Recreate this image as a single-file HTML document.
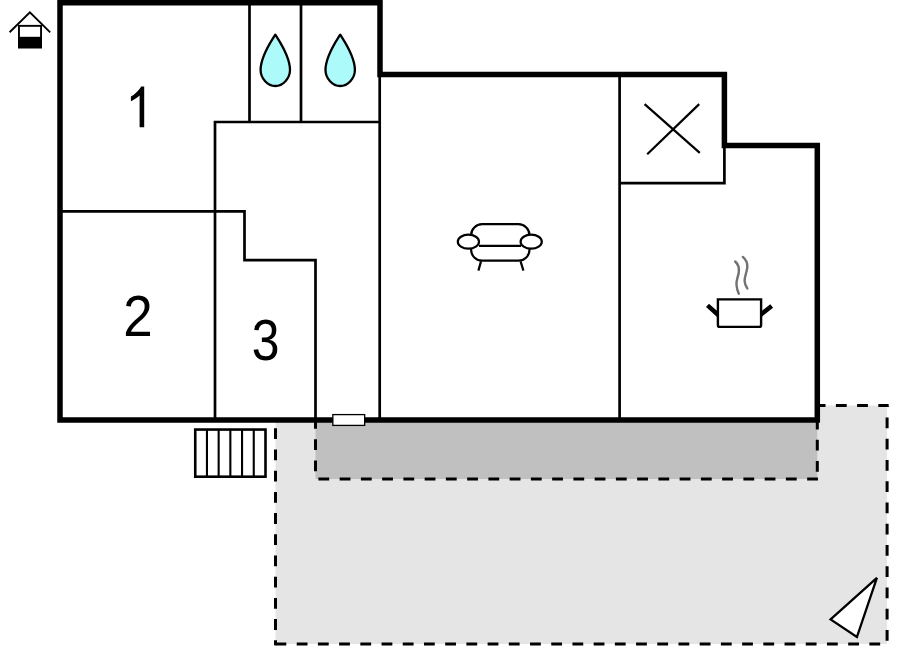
<!DOCTYPE html>
<html>
<head>
<meta charset="utf-8">
<style>
html,body{margin:0;padding:0;background:#fff;width:899px;height:652px;overflow:hidden;}
svg{display:block;position:absolute;left:0;top:0;}
text{font-family:"Liberation Sans", sans-serif;}
</style>
</head>
<body>
<svg width="899" height="652" viewBox="0 0 899 652">
<!-- light grey terrace -->
<path d="M275.5 420 L817.3 420 L817.3 405.5 L887.1 405.5 L887.1 644 L275.5 644 Z" fill="#e5e5e5" stroke="none"/>
<g fill="none" stroke="#000" stroke-width="3" stroke-dasharray="10.8 10.4">
<path d="M275.5 420 L275.5 645.2" stroke-dashoffset="12.9"/>
<path d="M274 644 L886.8 644" stroke-dasharray="10.8 10.41" stroke-dashoffset="-1.5"/>
<path d="M887.1 405.5 L887.1 645.5" stroke-dasharray="10.8 10.45" stroke-dashoffset="9.3"/>
<path d="M817.3 405.5 L888.6 405.5" stroke-dashoffset="2.6"/>
</g>
<!-- dark grey -->
<rect x="315.5" y="420" width="501.8" height="59" fill="#c0c0c0"/>
<g fill="none" stroke="#000" stroke-width="3" stroke-dasharray="10.8 10.4">
<path d="M315.5 420 L315.5 480.5" stroke-dashoffset="2"/>
<path d="M315.5 479 L818.8 479" stroke-dasharray="10.8 10.45" stroke-dashoffset="18.35"/>
<path d="M817.3 420 L817.3 480.5" stroke-dashoffset="1.4"/>
</g>

<!-- thin walls -->
<g stroke="#000" stroke-width="2.7" fill="none" stroke-linecap="butt" stroke-linejoin="miter">
<path d="M249.5 3 L249.5 122"/>
<path d="M301 3 L301 122"/>
<path d="M380 122 L215 122 L215 420"/>
<path d="M60 211.4 L244.5 211.4 L244.5 260.1 L315.5 260.1 L315.5 420"/>
<path d="M379.7 74.5 L379.7 420"/>
<path d="M619.6 74.5 L619.6 420"/>
<path d="M619.6 183.2 L724.4 183.2 L724.4 145.5"/>
</g>
<!-- thick walls -->
<path d="M60 420 L60 2.75 L380 2.75 L380 74.5 L724.4 74.5 L724.4 145.5 L817.3 145.5 L817.3 420 Z" fill="none" stroke="#000" stroke-width="5.5" stroke-linejoin="miter"/>

<!-- door -->
<rect x="332.85" y="414.6" width="31.8" height="10.8" fill="#fff" stroke="#000" stroke-width="1.3"/>

<!-- stairs -->
<rect x="195.25" y="429.55" width="70.25" height="47.15" fill="#fff" stroke="#000" stroke-width="2.6"/>
<path d="M206.95 429.55 V476.7 M218.65 429.55 V476.7 M230.35 429.55 V476.7 M242.05 429.55 V476.7 M253.75 429.55 V476.7" fill="none" stroke="#000" stroke-width="2.1"/>

<!-- house icon -->
<g>
<path d="M9.6 32.2 L29.9 12.4 L50.2 32.4" fill="none" stroke="#000" stroke-width="1.9"/>
<rect x="18.95" y="25.85" width="22.1" height="21.5" fill="#fff" stroke="#000" stroke-width="1.9"/>
<rect x="18" y="36.8" width="24" height="11.5" fill="#000"/>
</g>

<!-- water drops -->
<g fill="#acfafa" stroke="#000" stroke-width="2.3" stroke-linejoin="round">
<path transform="translate(275.3 0)" d="M0 34.65 C3.5 40.5, 14.7 56, 14.7 70 C14.7 78.5, 7.5 86, 0 86 C-7.5 86, -14.7 78.5, -14.7 70 C-14.7 56, -3.5 40.5, 0 34.65 Z"/>
<path transform="translate(340.2 0)" d="M0 34.65 C3.5 40.5, 14.7 56, 14.7 70 C14.7 78.5, 7.5 86, 0 86 C-7.5 86, -14.7 78.5, -14.7 70 C-14.7 56, -3.5 40.5, 0 34.65 Z"/>
</g>

<!-- X -->
<g stroke="#000" stroke-width="2.2">
<path d="M644.6 104.2 L699.8 152.8"/>
<path d="M699.2 104.1 L647.2 154.3"/>
</g>

<!-- sofa -->
<g stroke="#000" stroke-width="2.2" fill="#fff">
<rect x="471.1" y="224.2" width="58.4" height="36.5" rx="11" ry="11"/>
<path d="M479 245.8 L521 245.8" fill="none"/>
<ellipse cx="468.4" cy="241.7" rx="10.6" ry="7"/>
<ellipse cx="531.2" cy="241.7" rx="10.6" ry="7"/>
<path d="M481 261.4 L478.4 270.6 M520.6 261.4 L523.4 270.6" fill="none"/>
</g>

<!-- pot -->
<g>
<path d="M735.2 261.5 C738.5 264.5, 739.2 268.5, 738.8 272 C738.2 277, 736 280, 736.5 285 C736.8 289, 737.8 291.5, 738.8 293.7" fill="none" stroke="#727272" stroke-width="2.4" stroke-linecap="round"/>
<path d="M742.8 256.9 C746 259.5, 747.5 263, 747.3 267 C747 272, 744.5 276, 744.6 281 C744.8 284.5, 746 286.5, 747.3 288.4" fill="none" stroke="#727272" stroke-width="2.4" stroke-linecap="round"/>
<path d="M707.5 305.4 L718.6 315.2 M771.7 306 L760.4 315" fill="none" stroke="#000" stroke-width="4.5" stroke-linecap="butt"/>
<path d="M717.9 299.4 L761.1 299.4 L761.1 324.9 Q761.1 326.9 759.1 326.9 L719.9 326.9 Q717.9 326.9 717.9 324.9 Z" fill="#fff" stroke="#000" stroke-width="2.4"/>
</g>

<!-- compass triangle -->
<path d="M876.9 577.8 L830.6 619.4 L856.9 637 Z" fill="#fff" stroke="#000" stroke-width="2.3" stroke-linejoin="miter" stroke-miterlimit="3"/>

<!-- room numbers -->
<path d="M144.2 127.3 L139.6 127.3 L139.6 95.6 Q137.8 97.2 134.9 98.9 Q132 100.6 130.9 101.3 L130.9 96.5 Q134 95 136.8 92 Q139.8 89 141.2 86.4 L144.2 86.4 Z" fill="#000"/>
<g font-family="'Liberation Sans', sans-serif" font-size="58" fill="#000" text-anchor="middle">
<text x="138" y="335.8" transform="translate(137.8 0) scale(0.913 1) translate(-137.8 0)">2</text>
<text x="265.7" y="360" transform="translate(265.65 0) scale(0.86 1) translate(-265.65 0)">3</text>
</g>
</svg>
</body>
</html>
